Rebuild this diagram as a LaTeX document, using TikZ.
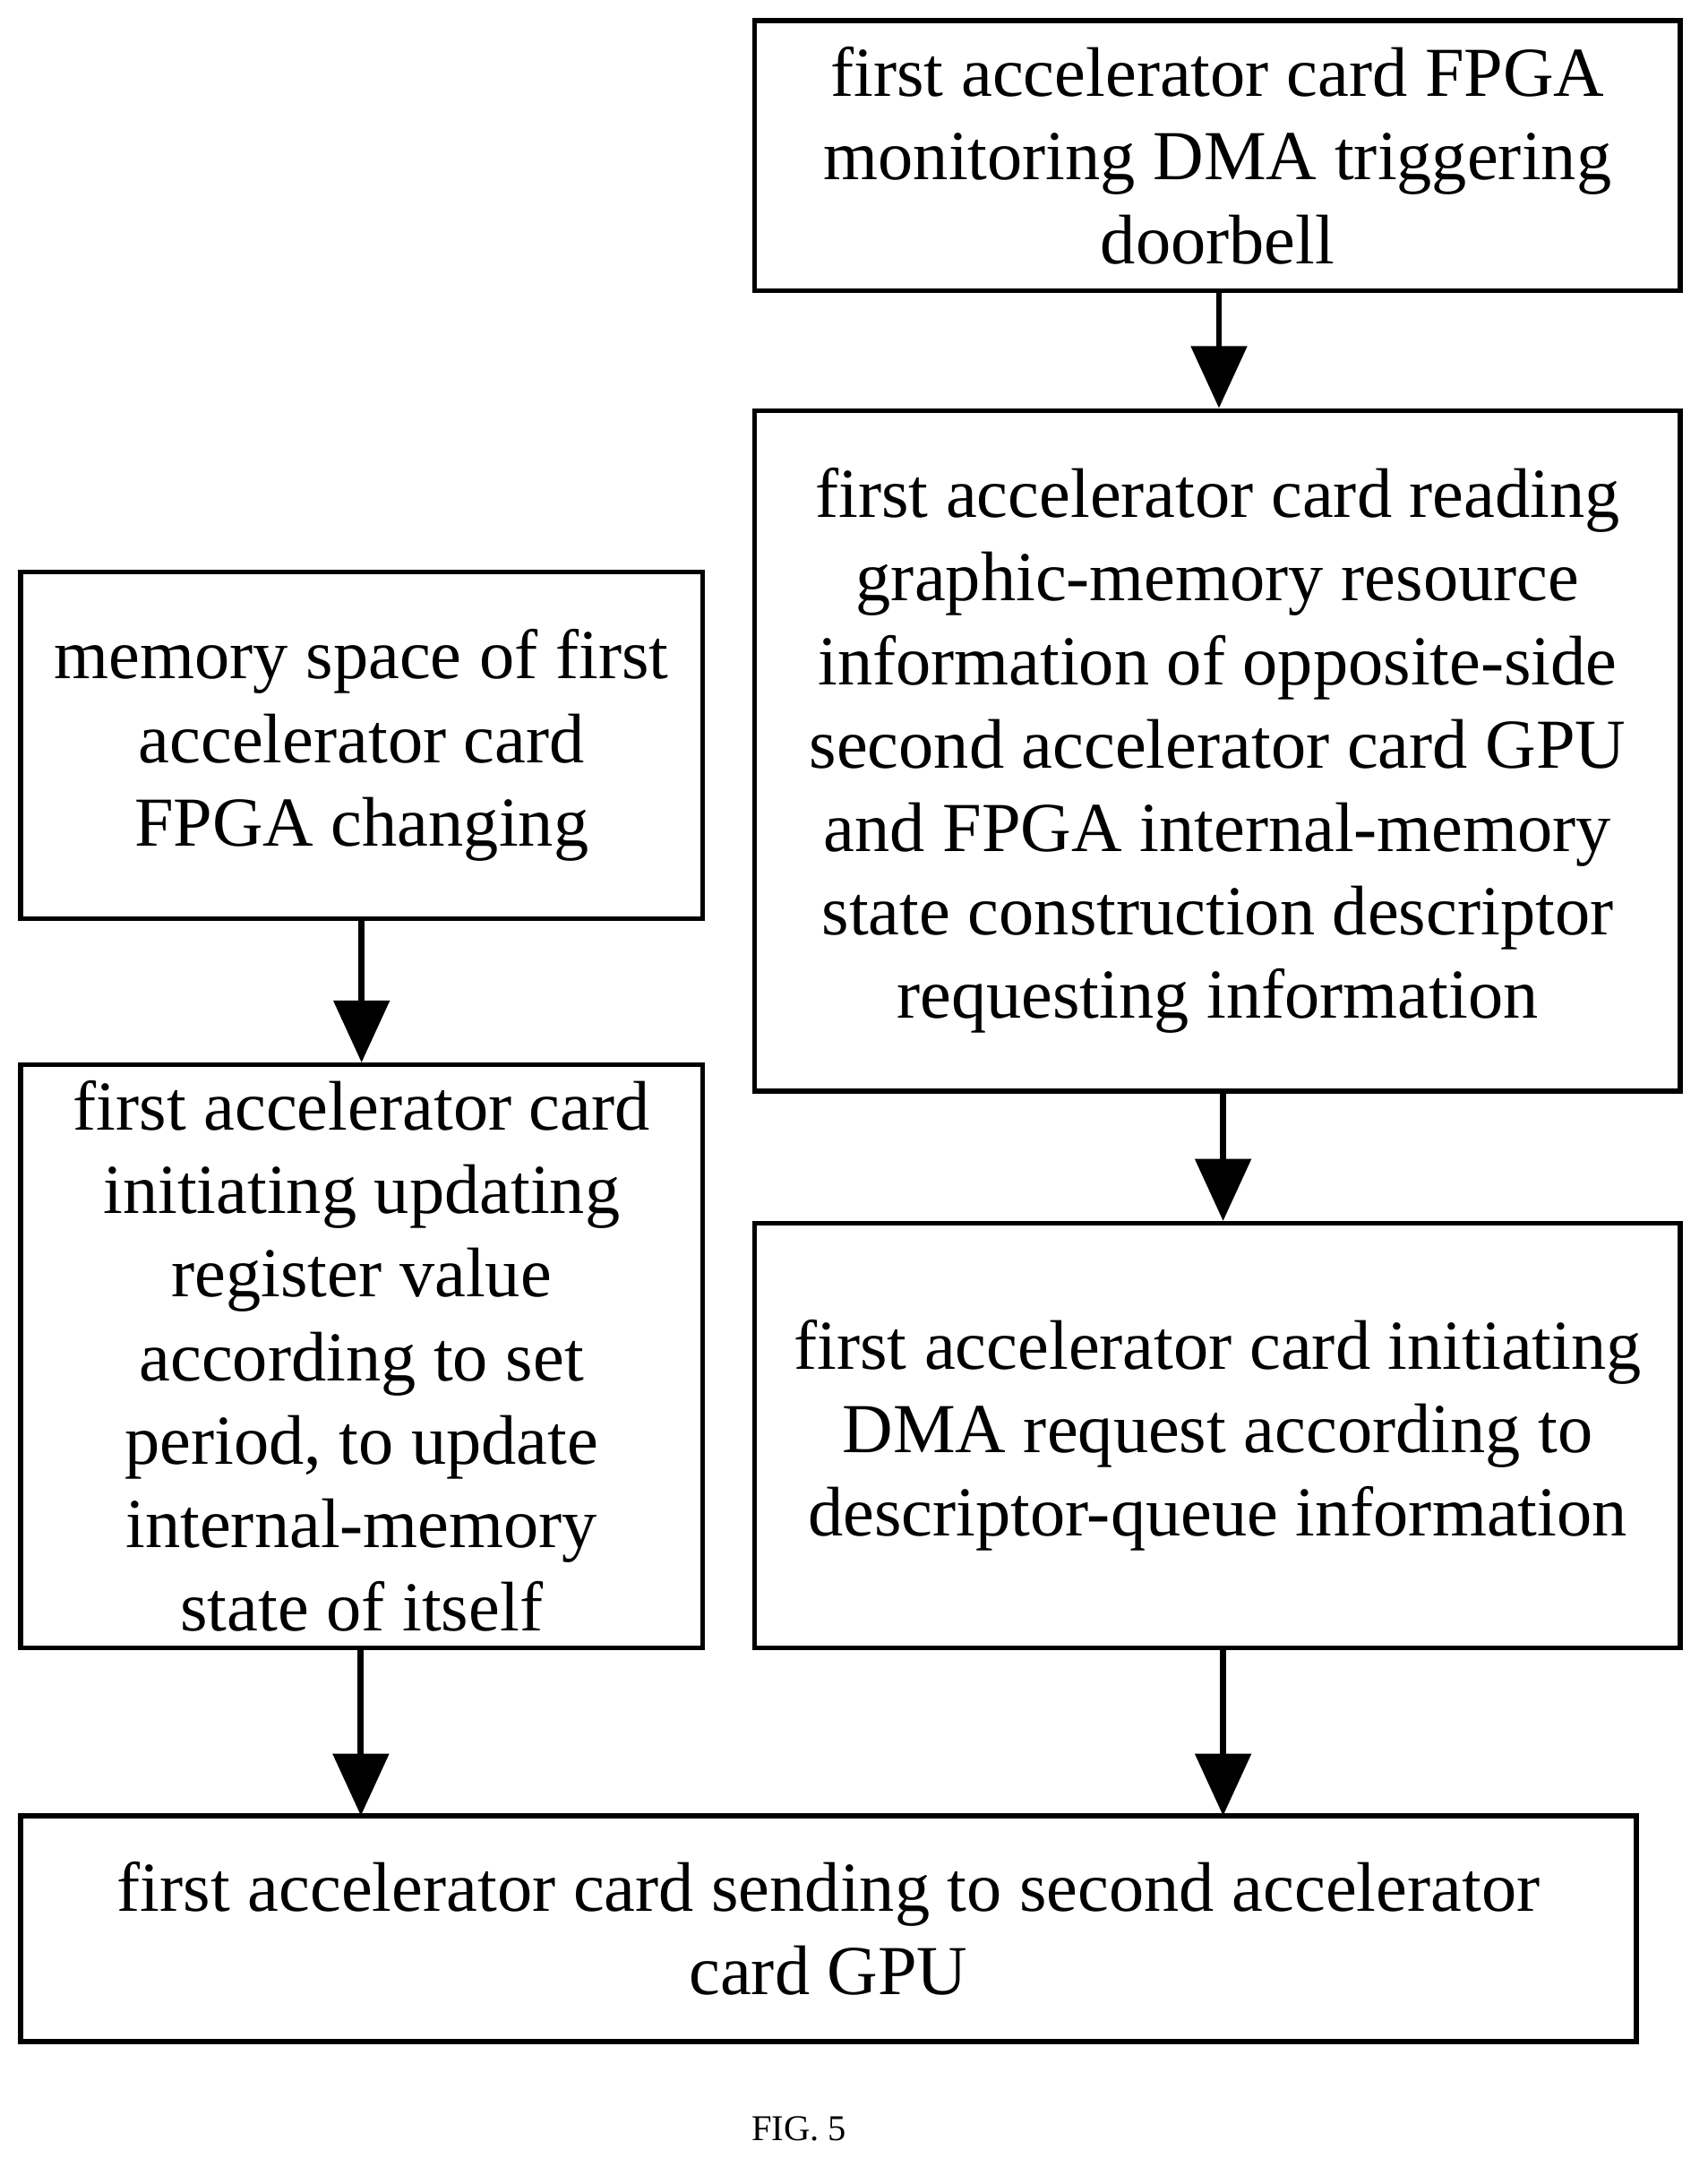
\documentclass[tikz,border=0pt]{standalone}
\usepackage{fontspec}
\setmainfont{Liberation Serif}
\usetikzlibrary{arrows.meta,positioning}

\begin{document}
\begin{tikzpicture}[
    stage/.style={rectangle, draw, line width=0.07cm, align=center, font=\fontsize{29}{34.5}\selectfont, inner sep=0pt},
    flow/.style={-{Triangle[length=0.9cm,width=0.8cm]}, line width=0.09cm}
]
\useasboundingbox (0,0) rectangle (24.8,-31.46);

\node[stage, minimum width=13.44cm, minimum height=3.92cm] (monitor) at (17.68,-2.26) {first accelerator card FPGA\\monitoring DMA triggering\\doorbell};
\node[stage, minimum width=13.44cm, minimum height=9.88cm] (read) at (17.68,-10.90) {first accelerator card reading\\graphic-memory resource\\information of opposite-side\\second accelerator card GPU\\and FPGA internal-memory\\state construction descriptor\\requesting information};
\node[stage, minimum width=9.9cm, minimum height=5.04cm] (change) at (5.25,-10.82) {memory space of first\\accelerator card\\FPGA changing};
\node[stage, minimum width=9.9cm, minimum height=8.46cm] (update) at (5.25,-19.69) {first accelerator card\\initiating updating\\register value\\according to set\\period, to update\\internal-memory\\state of itself};
\node[stage, minimum width=13.44cm, minimum height=6.16cm] (dma) at (17.68,-20.84) {first accelerator card initiating\\DMA request according to\\descriptor-queue information};
\node[stage, minimum width=23.46cm, minimum height=3.28cm] (send) at (12.03,-28.0) {first accelerator card sending to second accelerator\\card GPU};

\coordinate (sendL) at (5.24,-26.36);
\coordinate (sendR) at (17.76,-26.36);

\draw[flow] (monitor.south -| 17.7,0) -- (read.north -| 17.7,0);
\draw[flow] (read.south -| 17.76,0) -- (dma.north -| 17.76,0);
\draw[flow] (change) -- (update);
\draw[flow] (update.south -| sendL) -- (sendL);
\draw[flow] (dma.south -| sendR) -- (sendR);

\node[font=\fontsize{15}{18}\selectfont] (fig) at (11.6,-30.9) {FIG. 5};
\end{tikzpicture}
\end{document}
